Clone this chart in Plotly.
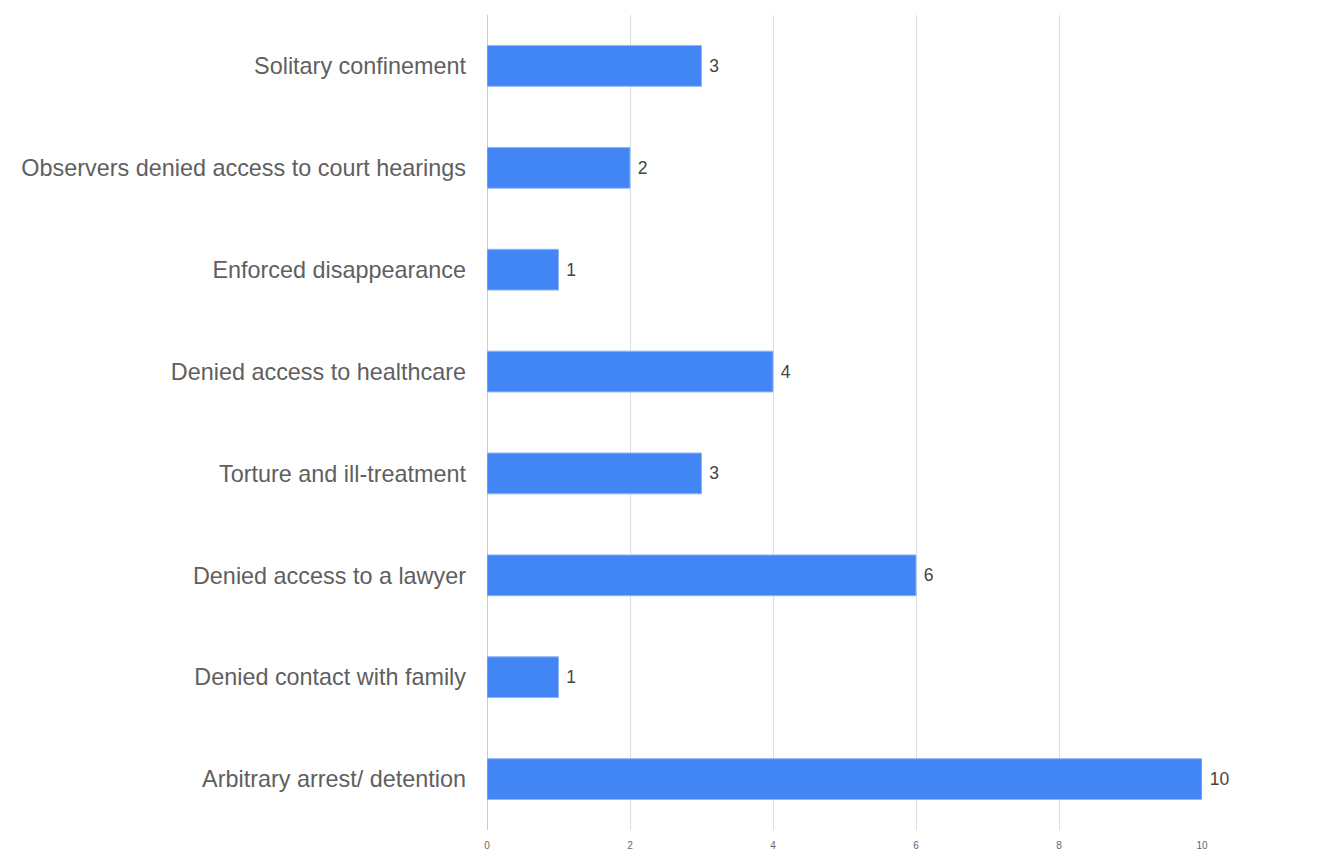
import plotly.graph_objects as go

categories = [
    "Arbitrary arrest/ detention",
    "Denied contact with family",
    "Denied access to a lawyer",
    "Torture and ill-treatment",
    "Denied access to healthcare",
    "Enforced disappearance",
    "Observers denied access to court hearings",
    "Solitary confinement",
]
counts = [10, 1, 6, 3, 4, 1, 2, 3]
tick_values = [0, 2, 4, 6, 8, 10]

fig = go.Figure(
    go.Bar(
        x=counts,
        y=categories,
        orientation="h",
        width=0.4,
        marker=dict(color="#4285F4", line=dict(color="#8fb4f7", width=1)),
        text=["\u00a0" + str(c) for c in counts],
        textposition="outside",
        textfont=dict(family="Liberation Sans, Arial, sans-serif", size=17.5, color="#444444"),
        cliponaxis=False,
    )
)

fig.update_layout(
    width=1339,
    height=851,
    margin=dict(l=487, r=137, t=15, b=21),
    paper_bgcolor="white",
    plot_bgcolor="white",
    showlegend=False,
    font=dict(family="Liberation Sans, Arial, sans-serif"),
    xaxis=dict(
        range=[0, 10],
        tickvals=tick_values,
        ticktext=[str(v) for v in tick_values],
        tickfont=dict(size=10, color="#666666"),
        ticklabelstandoff=8,
        showgrid=True,
        gridcolor="#dddddd",
        gridwidth=1,
        zeroline=True,
        zerolinecolor="#cccccc",
        zerolinewidth=1,
        showline=False,
        ticks="",
        automargin=False,
        fixedrange=True,
    ),
    yaxis=dict(
        tickfont=dict(size=23.4, color="#5f5f5f"),
        ticks="",
        showline=False,
        showgrid=False,
        ticklabelstandoff=20,
        range=[-0.5, 7.5],
        automargin=False,
        fixedrange=True,
    ),
)

fig.write_html("out.html")
